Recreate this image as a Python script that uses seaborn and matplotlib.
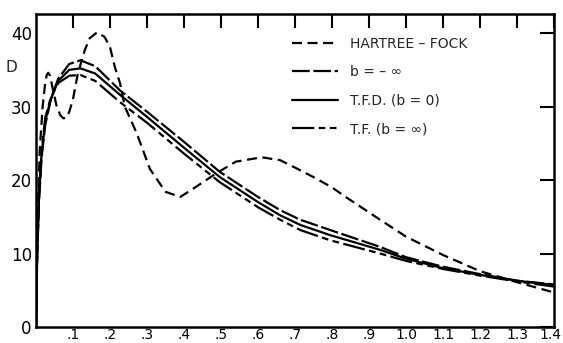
import matplotlib
matplotlib.use("Agg")
import matplotlib.pyplot as plt
import matplotlib.transforms as mtransforms
from matplotlib.lines import Line2D
import seaborn as sns
import pandas as pd

# ---------------- data ----------------
hf_r = [0, 0.004, 0.01, 0.018, 0.025, 0.029, 0.033, 0.038, 0.045, 0.056, 0.066,
        0.074, 0.082, 0.09, 0.1, 0.113, 0.132, 0.145, 0.165, 0.185, 0.2, 0.213,
        0.227, 0.24, 0.272, 0.308, 0.35, 0.39, 0.43, 0.49, 0.54, 0.61, 0.66,
        0.70, 0.75, 0.80, 0.84, 0.90, 0.93, 1.0, 1.1, 1.2, 1.3, 1.4]
hf_d = [0, 14, 24, 30, 33.3, 34.3, 34.6, 34.2, 32.5, 30, 28.8,
        28.4, 28.5, 29.3, 31, 34.5, 37.7, 39.3, 40.1, 39.5, 38.1, 35.4,
        33.2, 30, 26.4, 21.5, 18.4, 17.7, 19, 21, 22.5, 23.1, 22.7,
        21.7, 20.4, 19.0, 17.6, 15.6, 14.6, 12.3, 9.8, 7.6, 6.1, 4.7]

sm_r = [0, 0.003, 0.008, 0.015, 0.025, 0.04, 0.06, 0.09, 0.12, 0.16, 0.227,
        0.3, 0.4, 0.497, 0.6, 0.66, 0.714, 0.795, 0.93, 1.0, 1.1, 1.2, 1.3, 1.4]
bneg_d = [0, 9, 17, 23, 27.5, 31, 33.8, 35.8, 36.3, 35.5, 32.2,
          29.3, 25.2, 21.1, 17.7, 15.9, 14.6, 13.2, 10.9, 9.5, 8.2, 7.2, 6.3, 5.8]
tfd_d = [0, 9.5, 17.5, 23.5, 28, 31, 33.5, 35, 35.2, 34.5, 31.6,
         28.6, 24.4, 20.4, 17.0, 15.2, 13.9, 12.5, 10.5, 9.3, 8.0, 7.1, 6.3, 5.7]
tf_d = [0, 10, 18, 24, 28.5, 31.2, 33.2, 34.2, 34.3, 33.5, 30.6,
        27.8, 23.6, 19.7, 16.3, 14.6, 13.2, 11.8, 10.0, 9.0, 7.9, 7.0, 6.2, 5.5]

labels = ["HARTREE \u2013 FOCK", "b = \u2013 \u221e", "T.F.D. (b = 0)", "T.F. (b = \u221e)"]
x_ticks = [0.1, 0.2, 0.3, 0.4, 0.5, 0.6, 0.7, 0.8, 0.9, 1.0, 1.1, 1.2, 1.3, 1.4]
x_ticklabels = [".1", ".2", ".3", ".4", ".5", ".6", ".7", ".8", ".9",
                "1.0", "1.1", "1.2", "1.3", "1.4"]
y_ticks = [0, 10, 20, 30, 40]

# ---------------- build long table ----------------
frames = []
for lab, r, d in [(labels[0], hf_r, hf_d), (labels[1], sm_r, bneg_d),
                  (labels[2], sm_r, tfd_d), (labels[3], sm_r, tf_d)]:
    frames.append(pd.DataFrame({"r": r, "D": d, "curve": lab}))
df = pd.concat(frames, ignore_index=True)

dash_map = {labels[0]: (4.5, 2.5),
            labels[1]: (8, 1.6),
            labels[2]: "",
            labels[3]: (10, 2, 3, 2, 3, 2)}
pal = {l: "black" for l in labels}

sns.set_style("white")
plt.rcParams['font.family'] = ['DejaVu Sans']

fig = plt.figure(figsize=(5.63, 3.43), dpi=100)
ax = fig.add_axes([36 / 563, 16 / 343, 518 / 563, 313 / 343])

sns.lineplot(data=df, x="r", y="D", hue="curve", style="curve",
             palette=pal, dashes=dash_map, sort=False, estimator=None,
             linewidth=1.6, legend=False, ax=ax)

ax.set_xlim(0, 1.4)
ax.set_ylim(0, 42.6)
ax.set_xlabel("")
ax.set_ylabel("")

ax.set_xticks(x_ticks)
ax.set_xticklabels(x_ticklabels)
ax.set_yticks(y_ticks)
ax.tick_params(axis="both", direction="in", length=10, width=1.5,
               colors="black")
ax.tick_params(axis="x", pad=1, top=True, labelsize=10)
ax.tick_params(axis="y", pad=3, right=True, labelsize=12)
ax.tick_params(axis="x", which="both", labeltop=False)
for s in ax.spines.values():
    s.set_linewidth(1.8)
    s.set_color("black")
    s.set_visible(True)

# keep the last tick label inside the canvas
last = ax.get_xticklabels()[-1]
last.set_transform(last.get_transform() +
                   mtransforms.ScaledTranslation(-4 / 100, 0, fig.dpi_scale_trans))

fig.text(11 / 563, 1 - 68 / 343, "D", fontsize=11, ha="center", va="center")

handles = [Line2D([0], [0], color="black", lw=1.6,
                  linestyle="-" if dash_map[l] == "" else (0, dash_map[l]))
           for l in labels]
ax.legend(handles, labels, loc="upper left", bbox_to_anchor=(0.494, 0.928),
          frameon=False, fontsize=10, handlelength=3.3, handletextpad=0.85,
          labelspacing=1.05, borderpad=0, borderaxespad=0)

fig.savefig("out.png", dpi=100)
